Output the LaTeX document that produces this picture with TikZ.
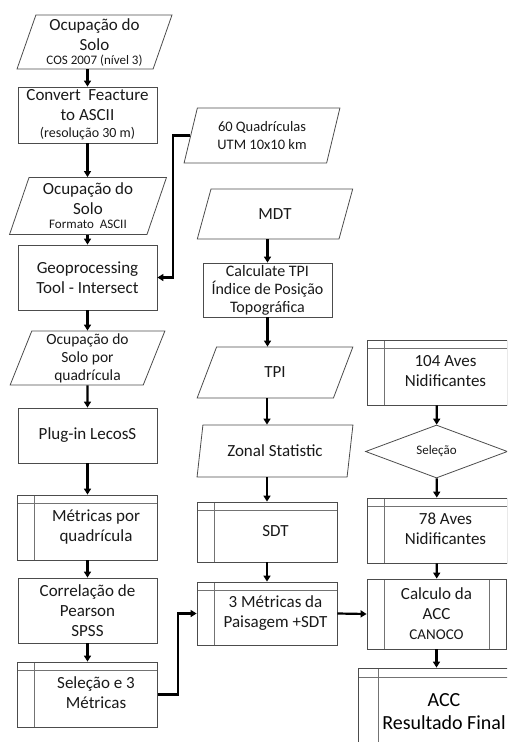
\documentclass[tikz,border=0pt]{standalone}
\usepackage{fontspec}
\setmainfont{Carlito}
\usetikzlibrary{shapes.geometric,arrows.meta}
\newcommand{\bartext}[2][17pt]{\hspace*{#1}\begin{tabular}{@{}c@{}}#2\end{tabular}}
\begin{document}
\begin{tikzpicture}[x=1pt,y=-1pt,
  every node/.style={font=\fontsize{17}{20}\selectfont, text=black!90, inner sep=0pt},
  frame/.style={draw=black!70, line width=0.8pt, rectangle},
  box/.style={frame, align=center},
  io/.style={box, trapezium, trapezium left angle=72, trapezium right angle=108, trapezium stretches},
  sub/.style={frame, minimum width=140,
    path picture={\draw[black!55, line width=0.7pt]
      ([xshift=17pt]path picture bounding box.north west) -- ([xshift=17pt]path picture bounding box.south west)
      ([yshift=-8pt]path picture bounding box.north west) -- ([yshift=-8pt]path picture bounding box.north east);}},
  pre/.style={box, path picture={\draw[black!55, line width=0.7pt]
      ([xshift=17pt]path picture bounding box.north west) -- ([xshift=17pt]path picture bounding box.south west)
      ([xshift=-17pt]path picture bounding box.north east) -- ([xshift=-17pt]path picture bounding box.south east);}},
  dec/.style={box, diamond},
  line/.style={draw=black, line width=2.2pt, -{Triangle[length=6pt,width=7pt]}}]
  \useasboundingbox (0,0) rectangle (507,742);
  \clip (0,0) rectangle (507,742);

  \node[io, minimum width=155, minimum height=54] (solo) at (94.5,42)
    {Ocupação do\\Solo\\[-6pt]{\fontsize{13}{14}\selectfont COS 2007 (nível 3)}};
  \node[box, minimum width=139, minimum height=56] (conv) at (87.5,115)
    {Convert\ \ Feacture\\to ASCII\\[-3pt]{\fontsize{14}{15}\selectfont (resolução 30 m)}};
  \node[io, minimum width=157, minimum height=57] (fmt) at (88,206)
    {Ocupação do\\Solo\\[-6pt]{\fontsize{13}{14}\selectfont Formato\ \ ASCII}};
  \node[box, minimum width=139, minimum height=65] (geo) at (87.5,277.5)
    {Geoprocessing\\Tool - Intersect};
  \node[io, minimum width=155, minimum height=54, font=\fontsize{15.5}{18}\selectfont] (quadr) at (87.5,358)
    {Ocupação do\\Solo por\\quadrícula};
  \node[box, minimum width=139, minimum height=55] (plug) at (87.5,435.5) {Plug-in LecosS};
  \node[sub, minimum height=65] (metq) at (87.5,527.5) {\bartext{Métricas por\\quadrícula}};
  \node[box, minimum width=139, minimum height=65] (corr) at (87.5,610.5)
    {Correlação de\\Pearson\\SPSS};
  \node[sub, minimum height=65] (sel3) at (87.5,694.5) {\bartext{Seleção e 3\\Métricas}};

  \node[io, minimum width=156, minimum height=55, font=\fontsize{14.5}{18}\selectfont] (quad) at (262,135.5)
    {60 Quadrículas\\UTM 10x10 km};
  \node[io, minimum width=156, minimum height=50] (mdt) at (275,214) {MDT};
  \node[box, minimum width=129, minimum height=54, font=\fontsize{16}{18}\selectfont] (calc) at (267.5,290)
    {Calculate TPI\\Índice de Posição\\Topográfica};
  \node[io, minimum width=156, minimum height=51] (tpi) at (275,372.5) {TPI};
  \node[io, minimum width=156, minimum height=52] (zonal) at (275,451) {Zonal Statistic};
  \node[sub, minimum height=60] (sdt) at (267,532) {\bartext{SDT}};
  \node[sub, minimum height=63] (met3) at (267,613.5) {\bartext{3 Métricas da\\Paisagem +SDT}};

  \node[sub, minimum height=65] (av104) at (437,372.5) {\bartext{104 Aves\\Nidificantes}};
  \node[dec, minimum width=142, minimum height=53, font=\fontsize{13}{15}\selectfont] (selec) at (436.5,451.5) {Seleção};
  \node[sub, minimum height=65] (av78) at (437,530.5) {\bartext{78 Aves\\Nidificantes}};
  \node[pre, minimum width=139, minimum height=70] (acc) at (436.5,614)
    {Calculo da\\ACC\\{\fontsize{15}{16}\selectfont CANOCO}};
  \node[frame, minimum width=152, minimum height=90, font=\fontsize{20}{23}\selectfont, text=black,
    path picture={\draw[black!55, line width=0.7pt]
      ([xshift=20pt]path picture bounding box.north west) -- ([xshift=20pt]path picture bounding box.south west)
      ([yshift=-9pt]path picture bounding box.north west) -- ([yshift=-9pt]path picture bounding box.north east);}]
    (final) at (434,713) {\bartext[20pt]{ACC\\Resultado Final}};

  \draw[line] (solo.south -| conv) -- (conv);
  \draw[line] (conv) -- (conv |- fmt.north);
  \draw[line] (fmt.south -| geo) -- (geo);
  \draw[line] (geo) -- (geo |- quadr.north);
  \draw[line] (quadr) -- (plug);
  \draw[line] (plug) -- (metq);
  \draw[line] (metq) -- (corr);
  \draw[line] (corr) -- (sel3);
  \draw[line] (quad.west) -- ++(-17,0) |- (geo.east);

  \draw[line] (mdt.south -| calc) -- (calc);
  \draw[line] (calc) -- (calc |- tpi.north);
  \draw[line] (tpi.south -| sdt) -- (sdt |- zonal.north);
  \draw[line] (zonal.south -| sdt) -- (sdt);
  \draw[line] (sdt) -- (met3);
  \draw[line] (sel3.east) -- ++(20,0) |- (met3.west);

  \draw[line] (av104) -- (selec);
  \draw[line] (selec) -- (av78);
  \draw[line] (av78) -- (acc);
  \draw[line] (acc.south) -- (acc.south |- final.north);
  \draw[line] (met3.east) -- (acc.west);
\end{tikzpicture}
\end{document}
